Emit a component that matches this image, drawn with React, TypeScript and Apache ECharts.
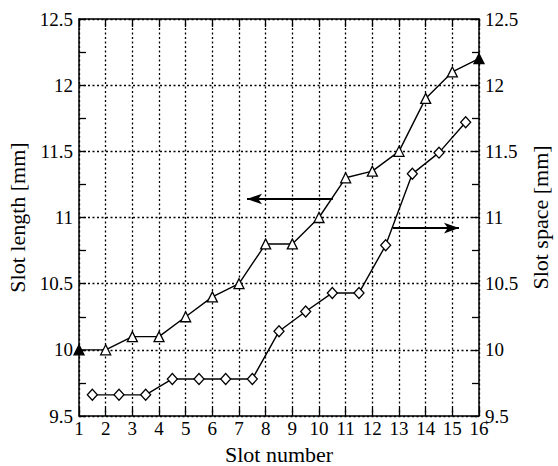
import React, { useEffect, useRef } from "react";
import * as echarts from "echarts";

// Slot length (left axis), one value per slot 1..16
const slotNumbers = [1, 2, 3, 4, 5, 6, 7, 8, 9, 10, 11, 12, 13, 14, 15, 16];
const slotLength = [10.0, 10.0, 10.1, 10.1, 10.25, 10.4, 10.5, 10.8, 10.8, 11.0, 11.3, 11.35, 11.5, 11.9, 12.1, 12.2];

// Slot space (right axis), measured between neighbouring slots
const spacePositions = [1.5, 2.5, 3.5, 4.5, 5.5, 6.5, 7.5, 8.5, 9.5, 10.5, 11.5, 12.5, 13.5, 14.5, 15.5];
const slotSpace = [9.66, 9.66, 9.66, 9.78, 9.78, 9.78, 9.78, 10.14, 10.29, 10.43, 10.43, 10.79, 11.33, 11.49, 11.72];

// Arrows pointing each curve to its axis (data coordinates)
const lengthArrow = { from: [10.52, 11.14], to: [7.3, 11.14] };
const spaceArrow = { from: [12.77, 10.92], to: [15.25, 10.92] };

const FONT = "'Liberation Serif', 'Times New Roman', serif";

export default function App() {
  const ref = useRef<HTMLDivElement>(null);

  useEffect(() => {
    if (!ref.current) return;
    const chart = echarts.init(ref.current, null, { renderer: "svg" });

    const dotted = { color: "#000", width: 1.3, type: [2, 2.5] as number[] };
    const axisLine = { show: true, onZero: false, lineStyle: { color: "#000", width: 1.5 } };
    const label = { color: "#000", fontFamily: FONT, fontSize: 19 };
    const nameStyle = { color: "#000", fontFamily: FONT, fontSize: 22 };
    const arrowLine = (a: { from: number[]; to: number[] }) => ({
      silent: true,
      symbol: ["none", "arrow"],
      symbolSize: [8, 15],
      label: { show: false },
      lineStyle: { color: "#000", width: 1.8, type: "solid" },
      data: [[{ coord: a.from }, { coord: a.to }]],
    });

    chart.setOption({
      animation: false,
      backgroundColor: "#fff",
      grid: { left: 79, right: 79, top: 19, bottom: 50, outerBoundsMode: "none", containLabel: false },
      xAxis: [
        {
          type: "value",
          min: 1,
          max: 16,
          interval: 1,
          name: "Slot number",
          nameLocation: "middle",
          nameGap: 27,
          nameTextStyle: nameStyle,
          axisLine,
          axisTick: { show: true, inside: true, length: 8, lineStyle: { color: "#000", width: 1.3 } },
          axisLabel: { ...label, margin: 3 },
          splitLine: { show: true, lineStyle: dotted },
        },
        {
          type: "value",
          position: "top",
          min: 1,
          max: 16,
          interval: 1,
          axisLine,
          axisTick: { show: true, inside: true, length: 8, lineStyle: { color: "#000", width: 1.3 } },
          axisLabel: { show: false },
          splitLine: { show: false },
        },
      ],
      yAxis: [
        {
          type: "value",
          min: 9.5,
          max: 12.5,
          interval: 0.5,
          name: "Slot length [mm]",
          nameLocation: "middle",
          nameGap: 49,
          nameTextStyle: nameStyle,
          axisLine,
          axisTick: { show: true, inside: true, length: 7, lineStyle: { color: "#000", width: 1.3 } },
          minorTick: { show: true, splitNumber: 2, length: 7, lineStyle: { color: "#000", width: 1.3 } },
          axisLabel: { ...label, margin: 6 },
          splitLine: { show: true, lineStyle: dotted },
        },
        {
          type: "value",
          position: "right",
          min: 9.5,
          max: 12.5,
          interval: 0.5,
          name: "Slot space [mm]",
          nameLocation: "middle",
          nameGap: 48,
          nameRotate: 90,
          nameTextStyle: nameStyle,
          axisLine,
          axisTick: { show: true, inside: true, length: 7, lineStyle: { color: "#000", width: 1.3 } },
          minorTick: { show: true, splitNumber: 2, length: 7, lineStyle: { color: "#000", width: 1.3 } },
          axisLabel: { ...label, margin: 6 },
          splitLine: { show: false },
        },
      ],
      series: [
        {
          name: "Slot length",
          type: "line",
          xAxisIndex: 0,
          yAxisIndex: 0,
          symbol: "triangle",
          symbolSize: 10,
          lineStyle: { color: "#000", width: 1.4 },
          itemStyle: { color: "#fff", borderColor: "#000", borderWidth: 1.3 },
          data: slotNumbers.map((x, i) => {
            const end = i === 0 || i === slotNumbers.length - 1;
            return end
              ? { value: [x, slotLength[i]], itemStyle: { color: "#000" } }
              : { value: [x, slotLength[i]] };
          }),
          markLine: arrowLine(lengthArrow),
          z: 5,
        },
        {
          name: "Slot space",
          type: "line",
          xAxisIndex: 0,
          yAxisIndex: 1,
          symbol: "diamond",
          symbolSize: [10, 11],
          lineStyle: { color: "#000", width: 1.4 },
          itemStyle: { color: "#fff", borderColor: "#000", borderWidth: 1.3 },
          data: spacePositions.map((x, i) => [x, slotSpace[i]]),
          markLine: arrowLine(spaceArrow),
          z: 5,
        },
      ],
    });

    return () => chart.dispose();
  }, []);

  return (
    <div
      ref={ref}
      style={{ position: "fixed", left: 0, top: 0, width: 558, height: 466 }}
    />
  );
}
